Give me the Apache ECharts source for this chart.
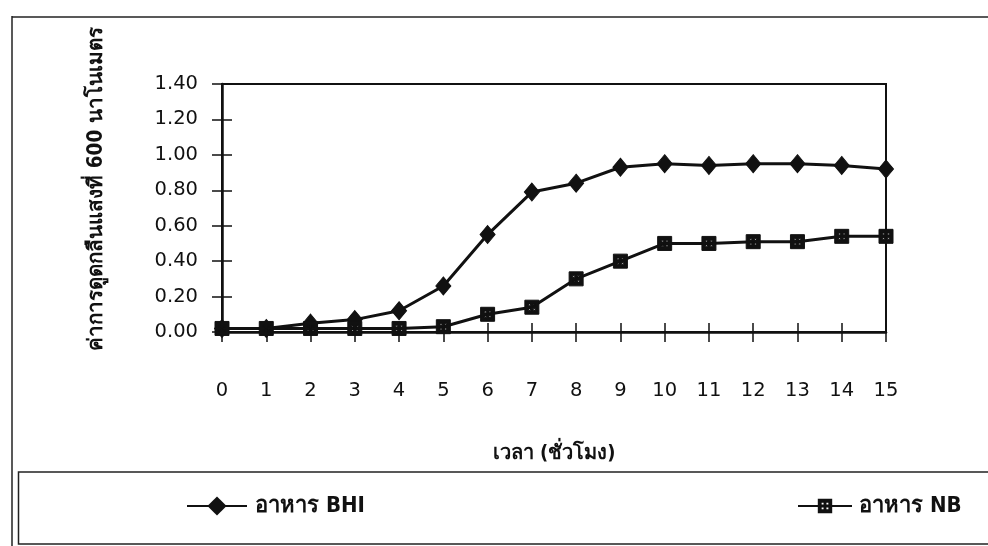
<!DOCTYPE html>
<html>
<head>
<meta charset="utf-8">
<script src="https://cdn.jsdelivr.net/npm/echarts@6/dist/echarts.min.js"></script>
<style>
  html, body { margin: 0; padding: 0; background: #fff; }
  #chart { width: 988px; height: 546px; }
</style>
</head>
<body>
<div id="chart"></div>
<script>
// Hours of incubation
const hours = [0, 1, 2, 3, 4, 5, 6, 7, 8, 9, 10, 11, 12, 13, 14, 15];
// Optical density at 600 nm for each medium
const bhiValues = [0.02, 0.02, 0.05, 0.07, 0.12, 0.26, 0.55, 0.79, 0.84, 0.93, 0.95, 0.94, 0.95, 0.95, 0.94, 0.92];
const nbValues  = [0.02, 0.02, 0.02, 0.02, 0.02, 0.03, 0.10, 0.14, 0.30, 0.40, 0.50, 0.50, 0.51, 0.51, 0.54, 0.54];
const seriesNames = ['อาหาร BHI', 'อาหาร NB'];
const yTitle = 'ค่าการดูดกลืนแสงที่ 600 นาโนเมตร';
const xTitle = 'เวลา (ชั่วโมง)';

const thaiFont = '"Liberation Sans Narrow", "DejaVu Sans Condensed", "Noto Sans", "DejaVu Sans", sans-serif';
const numFont = '"DejaVu Sans", "Liberation Sans", Arial, sans-serif';

// Square marker with small white dots inside (holes drawn with reverse winding)
function hole(x, y, s) {
  return 'M' + x + ' ' + y + 'V' + (y + s) + 'H' + (x + s) + 'V' + y + 'Z';
}
const dottedSquare = 'path://M0 0H12V12H0Z' +
  hole(3.2, 3.2, 1.6) + hole(7.2, 3.2, 1.6) + hole(3.2, 7.2, 1.6) + hole(7.2, 7.2, 1.6) + hole(5.2, 5.2, 1.6);

const toPairs = vals => hours.map((h, i) => [h, vals[i]]);

const chart = echarts.init(document.getElementById('chart'), null, { renderer: 'canvas' });

const gridBox = { left: 222, top: 84, right: 102, bottom: 214 };

chart.setOption({
  animation: false,
  backgroundColor: '#ffffff',
  grid: Object.assign({ show: true, borderColor: '#111', borderWidth: 2, backgroundColor: 'transparent' }, gridBox),
  xAxis: [{
    type: 'value', min: 0, max: 15, interval: 1,
    axisLine: { show: true, onZero: false, lineStyle: { color: '#111', width: 2.5 } },
    axisTick: { show: true, length: 10, lineStyle: { color: '#111', width: 1.5 } },
    axisLabel: { margin: 49, color: '#111', fontSize: 19.5, fontFamily: numFont },
    splitLine: { show: false },
    name: xTitle, nameLocation: 'middle', nameGap: 112,
    nameTextStyle: { color: '#111', fontSize: 20, fontWeight: 'bold', fontFamily: thaiFont }
  }, {
    type: 'value', min: 0, max: 15, interval: 1, position: 'bottom',
    axisLine: { show: false },
    axisTick: { show: true, inside: true, length: 9, lineStyle: { color: '#111', width: 1.5 } },
    axisLabel: { show: false },
    splitLine: { show: false }
  }],
  yAxis: [{
    type: 'value', min: 0, max: 1.4, interval: 0.2,
    axisLine: { show: true, onZero: false, lineStyle: { color: '#111', width: 2.5 } },
    axisTick: { show: true, length: 10, lineStyle: { color: '#111', width: 1.5 } },
    axisLabel: { margin: 24, color: '#111', fontSize: 19.5, fontFamily: numFont, formatter: v => v.toFixed(2) },
    splitLine: { show: false }
  }, {
    type: 'value', min: 0, max: 1.4, interval: 0.2, position: 'left',
    axisLine: { show: false },
    axisTick: { show: true, inside: true, length: 10, lineStyle: { color: '#111', width: 1.5 } },
    axisLabel: { show: false },
    splitLine: { show: false }
  }],
  legend: [{
    data: [seriesNames[0]], left: 186, top: 495, padding: 0, itemWidth: 60, itemHeight: 24, itemGap: 0,
    textStyle: { color: '#111', fontSize: 22, fontWeight: 'bold', fontFamily: thaiFont, padding: [0, 0, 0, 3] }
  }, {
    data: [seriesNames[1]], left: 797, top: 495, padding: 0, itemWidth: 54, itemHeight: 18, itemGap: 0,
    textStyle: { color: '#111', fontSize: 22, fontWeight: 'bold', fontFamily: thaiFont, padding: [0, 0, 0, 2] }
  }],
  graphic: [
    { type: 'line', shape: { x1: 12, y1: 17, x2: 988, y2: 17 }, style: { stroke: '#222', lineWidth: 1.5 } },
    { type: 'line', shape: { x1: 12, y1: 16, x2: 12, y2: 546 }, style: { stroke: '#222', lineWidth: 1.5 } },
    { type: 'rect', shape: { x: 18.5, y: 472, width: 980, height: 72 }, style: { fill: 'none', stroke: '#222', lineWidth: 1.5 } },
    {
      type: 'text', x: 97, y: 189, rotation: Math.PI / 2,
      style: { text: yTitle, fill: '#111', fontSize: 20.5, fontWeight: 'bold', fontFamily: thaiFont, align: 'center', verticalAlign: 'middle' }
    }
  ],
  series: [{
    name: seriesNames[0], type: 'line', data: toPairs(bhiValues),
    symbol: 'diamond', symbolSize: [15, 18],
    lineStyle: { color: '#111', width: 3 },
    itemStyle: { color: '#111', borderColor: '#111' },
    z: 3
  }, {
    name: seriesNames[1], type: 'line', data: toPairs(nbValues),
    symbol: dottedSquare, symbolSize: 14,
    lineStyle: { color: '#111', width: 3 },
    itemStyle: { color: '#111', borderColor: '#111' },
    z: 4
  }]
});
</script>
</body>
</html>
